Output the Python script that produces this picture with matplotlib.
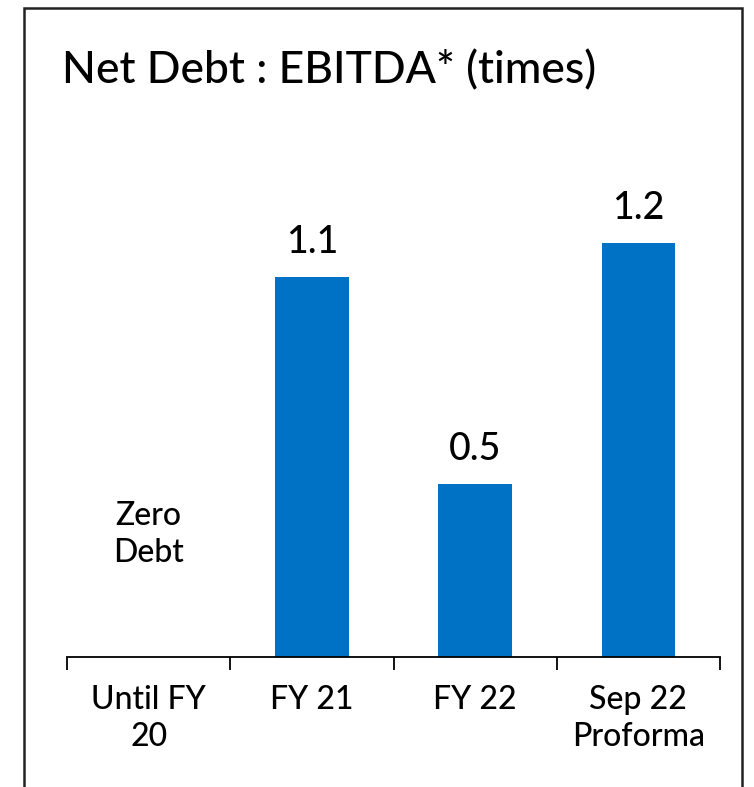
import matplotlib.pyplot as plt
from matplotlib.patches import Rectangle

categories = ['Until FY\n20', 'FY 21', 'FY 22', 'Sep 22\nProforma']
values = [0.0, 1.1, 0.5, 1.2]
value_labels = ['', '1.1', '0.5', '1.2']

plt.rcParams['font.family'] = ['Lato', 'DejaVu Sans']
plt.rcParams['font.weight'] = 'medium'

fig = plt.figure(figsize=(7.54, 7.87), dpi=100)
ax = fig.add_axes([0.0889, 0.1652, 0.866, 0.7014])

x = range(len(categories))
bars = ax.bar(x, values, width=0.45, color='#0072C6')

for i, (v, lab) in enumerate(zip(values, value_labels)):
    if lab:
        ax.text(i, v + 0.05, lab, ha='center', va='bottom', fontsize=27)
# no bar for the first year
ax.text(0, 0.355, 'Zero\nDebt', ha='center', va='center', fontsize=23, linespacing=1.3)

ax.set_xlim(-0.5, 3.5)
ax.set_ylim(0, 1.6)
for s in ['top', 'right', 'left']:
    ax.spines[s].set_visible(False)
ax.spines['bottom'].set_linewidth(1.3)
ax.set_yticks([])

ax.set_xticks([i for i in x])
ax.set_xticklabels(categories, fontsize=23, linespacing=1.3)
ax.tick_params(axis='x', which='major', length=0, pad=20)
ax.set_xticks([-0.5, 0.5, 1.5, 2.5, 3.5], minor=True)
ax.tick_params(axis='x', which='minor', length=9, width=1.3, direction='out')

fig.text(0.082, 0.91, 'Net Debt : EBITDA* (times)', fontsize=32, ha='left', va='center')

# frame around the chart
fig.patches.append(Rectangle((0.032, -0.01), 0.952, 1.0, transform=fig.transFigure,
                             fill=False, edgecolor='#222222', linewidth=1.8))

fig.savefig('out.png', dpi=100)
